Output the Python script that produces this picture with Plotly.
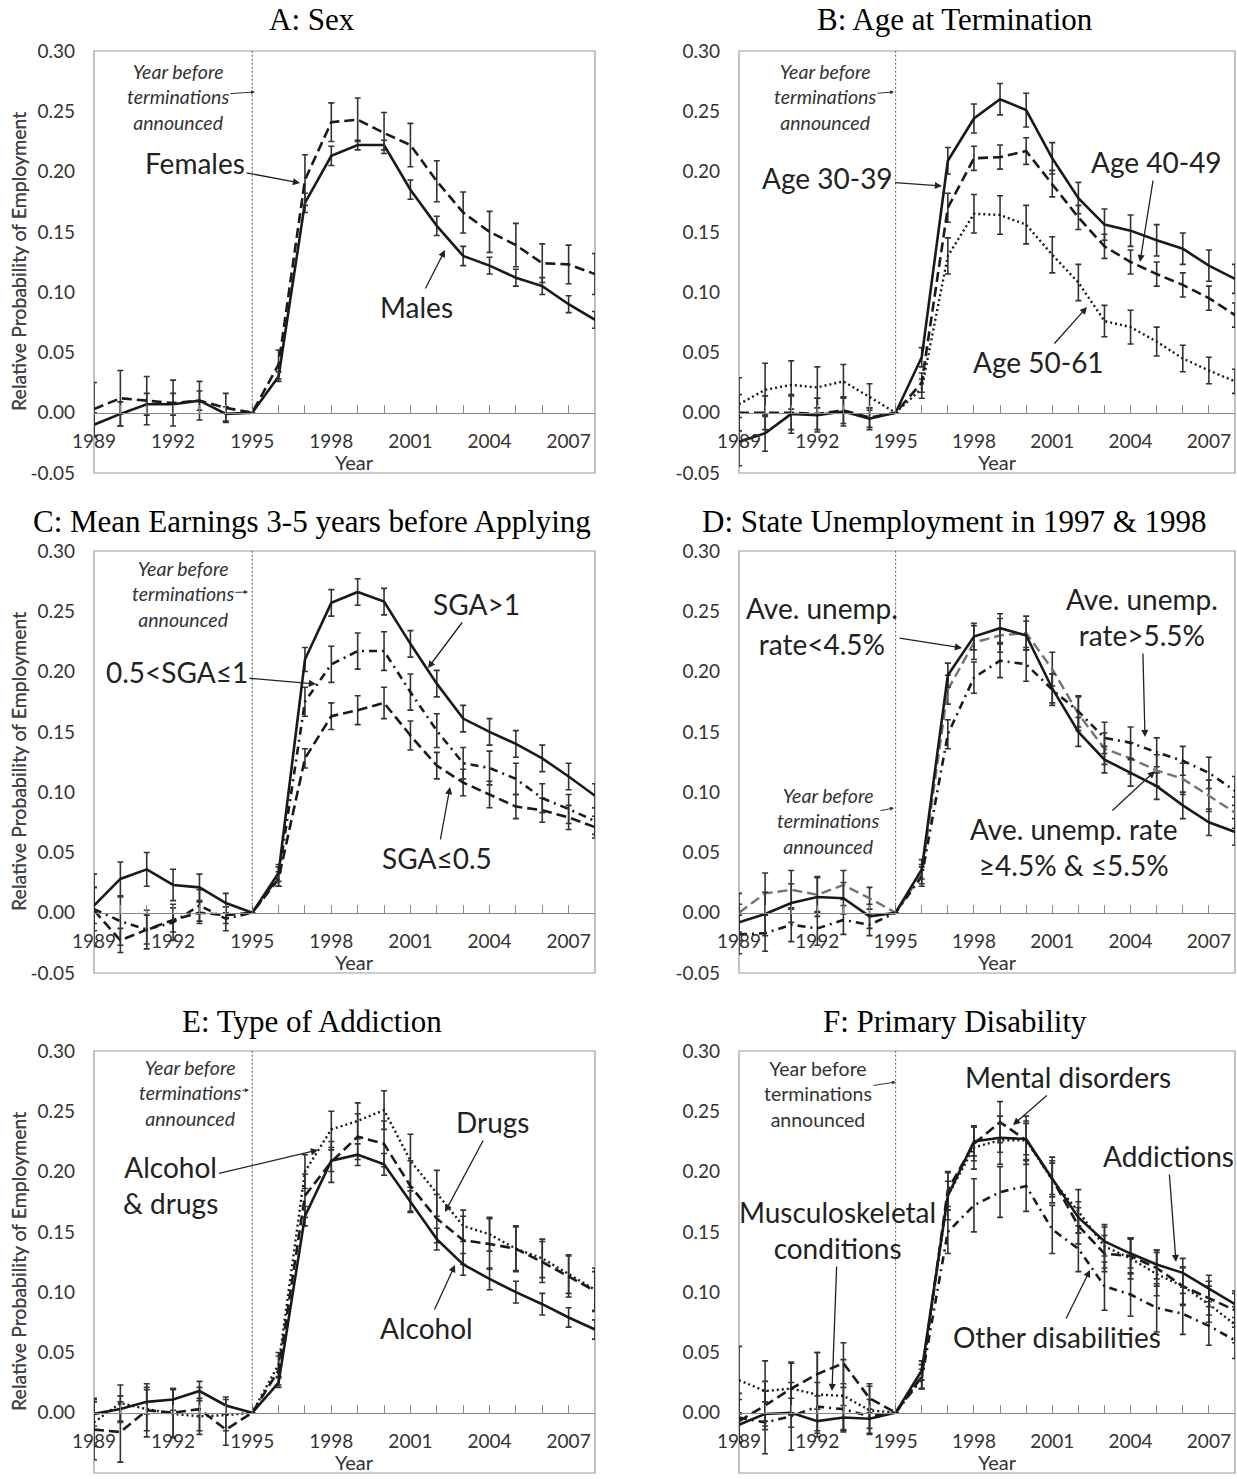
import plotly.graph_objects as go

# ---------------- DATA ----------------
YEARS = list(range(1989, 2009))
X_TICK_LABELS = [str(y) if (y - 1989) % 3 == 0 else "" for y in YEARS]
Y_TICKS = [-0.05, 0.0, 0.05, 0.10, 0.15, 0.20, 0.25, 0.30]
Y_TICK_LABELS = ["-0.05", "0.00", "0.05", "0.10", "0.15", "0.20", "0.25", "0.30"]
EVENT_YEAR = 1995

# A: Sex
A_MALES = [-0.010, -0.001, 0.007, 0.007, 0.010, -0.001, 0.000, 0.030, 0.174, 0.213, 0.222, 0.222, 0.185, 0.155, 0.130, 0.122, 0.112, 0.105, 0.090, 0.077]
A_MALES_ERR = [0.010, 0.010, 0.009, 0.009, 0.008, 0.006, 0.0, 0.004, 0.008, 0.008, 0.004, 0.004, 0.008, 0.008, 0.008, 0.007, 0.007, 0.007, 0.007, 0.007]
A_FEMALES = [0.003, 0.012, 0.010, 0.008, 0.010, 0.004, 0.000, 0.040, 0.193, 0.241, 0.243, 0.232, 0.222, 0.192, 0.166, 0.150, 0.139, 0.124, 0.123, 0.115]
A_FEMALES_ERR = [0.022, 0.023, 0.020, 0.019, 0.016, 0.012, 0.0, 0.012, 0.021, 0.016, 0.018, 0.017, 0.018, 0.017, 0.017, 0.017, 0.018, 0.016, 0.016, 0.017]

# B: Age at termination
B_AGE30 = [-0.024, -0.017, -0.001, -0.002, 0.001, -0.005, 0.000, 0.046, 0.209, 0.244, 0.260, 0.251, 0.211, 0.178, 0.156, 0.151, 0.143, 0.136, 0.122, 0.111]
B_AGE30_ERR = [0.020, 0.015, 0.016, 0.014, 0.012, 0.009, 0.0, 0.008, 0.011, 0.012, 0.013, 0.014, 0.013, 0.013, 0.013, 0.013, 0.013, 0.013, 0.013, 0.012]
B_AGE40 = [0.000, 0.000, 0.000, -0.001, 0.002, -0.004, 0.000, 0.025, 0.170, 0.211, 0.212, 0.217, 0.190, 0.162, 0.138, 0.125, 0.115, 0.106, 0.095, 0.081]
B_AGE40_ERR = [0.015, 0.014, 0.014, 0.013, 0.011, 0.008, 0.0, 0.008, 0.012, 0.010, 0.010, 0.011, 0.011, 0.010, 0.010, 0.010, 0.010, 0.010, 0.010, 0.010]
B_AGE50 = [0.007, 0.019, 0.023, 0.021, 0.026, 0.013, 0.000, 0.020, 0.130, 0.165, 0.164, 0.156, 0.131, 0.108, 0.076, 0.071, 0.059, 0.045, 0.035, 0.026]
B_AGE50_ERR = [0.022, 0.022, 0.020, 0.017, 0.014, 0.011, 0.0, 0.008, 0.015, 0.016, 0.016, 0.016, 0.015, 0.015, 0.013, 0.014, 0.012, 0.011, 0.011, 0.010]

# C: Mean earnings 3-5 years before applying
C_SGA_HIGH = [0.006, 0.028, 0.036, 0.023, 0.021, 0.008, 0.000, 0.033, 0.210, 0.257, 0.266, 0.258, 0.223, 0.190, 0.161, 0.150, 0.140, 0.128, 0.113, 0.097]
C_SGA_HIGH_ERR = [0.015, 0.014, 0.014, 0.013, 0.011, 0.008, 0.0, 0.007, 0.010, 0.011, 0.011, 0.011, 0.011, 0.011, 0.011, 0.011, 0.011, 0.011, 0.011, 0.010]
C_SGA_MID = [0.003, -0.007, -0.014, -0.008, 0.006, -0.005, 0.000, 0.030, 0.175, 0.206, 0.217, 0.217, 0.183, 0.151, 0.124, 0.120, 0.111, 0.095, 0.086, 0.076]
C_SGA_MID_ERR = [0.018, 0.020, 0.016, 0.015, 0.013, 0.010, 0.0, 0.008, 0.012, 0.015, 0.015, 0.016, 0.015, 0.014, 0.013, 0.014, 0.013, 0.012, 0.012, 0.011]
C_SGA_LOW = [0.002, -0.023, -0.014, -0.006, 0.000, -0.002, 0.000, 0.028, 0.128, 0.163, 0.168, 0.174, 0.147, 0.122, 0.108, 0.098, 0.088, 0.085, 0.079, 0.071]
C_SGA_LOW_ERR = [0.030, 0.010, 0.012, 0.010, 0.009, 0.007, 0.0, 0.006, 0.008, 0.011, 0.012, 0.013, 0.012, 0.011, 0.011, 0.011, 0.010, 0.010, 0.010, 0.009]

# D: State unemployment in 1997 & 1998
D_LOW = [-0.008, -0.001, 0.008, 0.013, 0.012, -0.003, 0.000, 0.036, 0.197, 0.229, 0.236, 0.230, 0.186, 0.150, 0.127, 0.116, 0.105, 0.089, 0.075, 0.067]
D_LOW_ERR = [0.015, 0.018, 0.016, 0.016, 0.013, 0.010, 0.0, 0.008, 0.010, 0.011, 0.012, 0.012, 0.012, 0.012, 0.011, 0.011, 0.011, 0.011, 0.011, 0.011]
D_HIGH = [-0.018, -0.017, -0.010, -0.013, -0.006, -0.010, 0.000, 0.030, 0.148, 0.195, 0.209, 0.206, 0.185, 0.167, 0.145, 0.141, 0.133, 0.126, 0.116, 0.101]
D_HIGH_ERR = [0.016, 0.015, 0.014, 0.014, 0.012, 0.009, 0.0, 0.008, 0.012, 0.013, 0.014, 0.014, 0.013, 0.013, 0.013, 0.013, 0.012, 0.012, 0.013, 0.012]
D_MID = [0.000, 0.016, 0.019, 0.015, 0.023, 0.012, 0.000, 0.032, 0.185, 0.224, 0.230, 0.232, 0.202, 0.165, 0.136, 0.128, 0.118, 0.111, 0.097, 0.083]
D_MID_ERR = [0.016, 0.017, 0.016, 0.015, 0.012, 0.009, 0.0, 0.008, 0.012, 0.014, 0.014, 0.014, 0.014, 0.014, 0.013, 0.013, 0.013, 0.013, 0.013, 0.013]

# E: Type of addiction
E_ALCOHOL = [-0.001, 0.003, 0.009, 0.011, 0.018, 0.006, 0.000, 0.025, 0.163, 0.209, 0.214, 0.206, 0.175, 0.144, 0.123, 0.111, 0.100, 0.090, 0.079, 0.069]
E_ALCOHOL_ERR = [0.010, 0.011, 0.010, 0.009, 0.008, 0.007, 0.0, 0.004, 0.008, 0.009, 0.009, 0.009, 0.009, 0.009, 0.009, 0.009, 0.009, 0.009, 0.008, 0.008]
E_DRUGS = [-0.014, -0.016, 0.002, 0.000, 0.003, -0.014, 0.000, 0.035, 0.180, 0.208, 0.229, 0.223, 0.188, 0.161, 0.143, 0.140, 0.136, 0.125, 0.113, 0.101]
E_DRUGS_ERR = [0.025, 0.025, 0.022, 0.020, 0.018, 0.013, 0.0, 0.012, 0.018, 0.017, 0.019, 0.019, 0.021, 0.020, 0.020, 0.021, 0.018, 0.017, 0.017, 0.016]
E_BOTH = [-0.008, 0.008, 0.003, -0.001, -0.003, -0.002, 0.000, 0.040, 0.200, 0.235, 0.242, 0.251, 0.209, 0.182, 0.155, 0.148, 0.136, 0.128, 0.115, 0.102]
E_BOTH_ERR = [0.020, 0.015, 0.018, 0.020, 0.015, 0.013, 0.0, 0.010, 0.014, 0.015, 0.015, 0.016, 0.022, 0.019, 0.013, 0.014, 0.019, 0.016, 0.016, 0.018]

# F: Primary disability
F_ADDICT = [-0.010, -0.001, 0.000, -0.007, -0.004, -0.005, 0.000, 0.035, 0.180, 0.225, 0.228, 0.227, 0.194, 0.162, 0.142, 0.132, 0.123, 0.116, 0.103, 0.090]
F_ADDICT_ERR = [0.010, 0.010, 0.012, 0.010, 0.010, 0.008, 0.0, 0.008, 0.012, 0.012, 0.012, 0.013, 0.013, 0.013, 0.012, 0.012, 0.012, 0.012, 0.011, 0.011]
F_MENTAL = [-0.007, 0.006, 0.020, 0.032, 0.041, 0.012, 0.000, 0.030, 0.185, 0.223, 0.241, 0.226, 0.194, 0.155, 0.132, 0.130, 0.120, 0.105, 0.095, 0.085]
F_MENTAL_ERR = [0.018, 0.020, 0.021, 0.018, 0.017, 0.012, 0.0, 0.010, 0.014, 0.014, 0.017, 0.016, 0.015, 0.015, 0.015, 0.015, 0.015, 0.015, 0.014, 0.014]
F_MUSCULO = [0.027, 0.018, 0.020, 0.015, 0.014, 0.002, 0.000, 0.030, 0.180, 0.220, 0.226, 0.226, 0.193, 0.167, 0.138, 0.128, 0.115, 0.105, 0.090, 0.073]
F_MUSCULO_ERR = [0.028, 0.025, 0.022, 0.035, 0.030, 0.020, 0.0, 0.010, 0.020, 0.018, 0.020, 0.020, 0.019, 0.018, 0.018, 0.017, 0.018, 0.016, 0.015, 0.015]
F_OTHER = [-0.004, -0.008, -0.003, 0.005, 0.003, -0.003, 0.000, 0.028, 0.150, 0.172, 0.183, 0.188, 0.152, 0.136, 0.105, 0.098, 0.087, 0.082, 0.072, 0.060]
F_OTHER_ERR = [0.020, 0.026, 0.028, 0.020, 0.018, 0.014, 0.0, 0.008, 0.018, 0.022, 0.021, 0.021, 0.020, 0.019, 0.020, 0.018, 0.020, 0.017, 0.016, 0.015]

TITLES = ["A: Sex", "B: Age at Termination", "C: Mean Earnings 3-5 years before Applying",
          "D: State Unemployment in 1997 & 1998", "E: Type of Addiction", "F: Primary Disability"]
Y_TITLE = "Relative Probability of Employment"
X_TITLE = "Year"

# ---------------- STYLE / LAYOUT ----------------
W, H = 1237, 1479
COLS_PX = [(94, 595), (739, 1235)]
ROWS_PX = [(51, 473), (551, 973), (1051, 1473)]
YMIN, YMAX = -0.05, 0.30
XMIN, XMAX = 1989, 2008

SANS = "Lato, 'Open Sans', sans-serif"
SERIF = "'Liberation Serif', 'Times New Roman', serif"
BLACK = "#1a1a1a"
GREY = "#737373"

DASH = "10px,5px"
DOT = "2px,3px"
DASHDOT = "8px,5px,2px,5px"

SERIES = [
    [("Males", A_MALES, A_MALES_ERR, "solid", BLACK, 2.6),
     ("Females", A_FEMALES, A_FEMALES_ERR, DASH, BLACK, 2.6)],
    [("Age 50-61", B_AGE50, B_AGE50_ERR, DOT, BLACK, 2.4),
     ("Age 40-49", B_AGE40, B_AGE40_ERR, DASH, BLACK, 2.6),
     ("Age 30-39", B_AGE30, B_AGE30_ERR, "solid", BLACK, 2.6)],
    [("SGA≤0.5", C_SGA_LOW, C_SGA_LOW_ERR, DASH, BLACK, 2.6),
     ("0.5<SGA≤1", C_SGA_MID, C_SGA_MID_ERR, DASHDOT, BLACK, 2.6),
     ("SGA>1", C_SGA_HIGH, C_SGA_HIGH_ERR, "solid", BLACK, 2.6)],
    [("≥4.5% & ≤5.5%", D_MID, D_MID_ERR, DASH, GREY, 2.4),
     ("rate>5.5%", D_HIGH, D_HIGH_ERR, DASHDOT, BLACK, 2.6),
     ("rate<4.5%", D_LOW, D_LOW_ERR, "solid", BLACK, 2.6)],
    [("Alcohol & drugs", E_BOTH, E_BOTH_ERR, DOT, BLACK, 2.4),
     ("Drugs", E_DRUGS, E_DRUGS_ERR, DASH, BLACK, 2.6),
     ("Alcohol", E_ALCOHOL, E_ALCOHOL_ERR, "solid", BLACK, 2.6)],
    [("Other disabilities", F_OTHER, F_OTHER_ERR, DASHDOT, BLACK, 2.6),
     ("Musculoskeletal", F_MUSCULO, F_MUSCULO_ERR, DOT, BLACK, 2.4),
     ("Mental disorders", F_MENTAL, F_MENTAL_ERR, DASH, BLACK, 2.6),
     ("Addictions", F_ADDICT, F_ADDICT_ERR, "solid", BLACK, 2.6)],
]

# label annotations: (text, head_px_x, head_px_y, text_center_px_x, text_center_px_y)
LABELS = [
    [("Females", 300, 183, 195, 163), ("Males", 445, 250, 416, 307)],
    [("Age 30-39", 942, 186, 828, 178), ("Age 40-49", 1140, 262, 1156, 162),
     ("Age 50-61", 1087, 307, 1038, 362)],
    [("SGA>1", 428, 668, 476, 604), ("0.5<SGA≤1", 316, 684, 177, 672),
     ("SGA≤0.5", 450, 787, 437, 858)],
    [("Ave. unemp.<br>rate<4.5%", 962, 648, 822, 626),
     ("Ave. unemp.<br>rate>5.5%", 1145, 737, 1142, 617),
     ("Ave. unemp. rate<br>≥4.5% & ≤5.5%", 1155, 771, 1073, 847)],
    [("Alcohol<br>& drugs", 318, 1150, 170, 1185), ("Drugs", 445, 1212, 493, 1122),
     ("Alcohol", 455, 1265, 426, 1328)],
    [("Mental disorders", 1013, 1125, 1068, 1077), ("Addictions", 1176, 1262, 1168, 1156),
     ("Musculoskeletal<br>conditions", 832, 1391, 838, 1230),
     ("Other disabilities", 1090, 1270, 1057, 1337)],
]
# "Year before terminations announced" note: (head_x, head_y, center_x, center_y, italic)
NOTES = [(255, 92, 178, 97, True), (894, 92, 825, 97, True), (248, 592, 183, 594, True),
         (894, 808, 828, 821, True), (249, 1090, 190, 1093, True), (896, 1082, 818, 1094, False)]
TITLE_POS = [(312, 20), (955, 20), (312, 521), (955, 521), (312, 1021), (955, 1021)]

fig = go.Figure()
layout = dict(width=W, height=H, margin=dict(l=0, r=0, t=0, b=0, pad=0), autosize=False,
              paper_bgcolor="white", plot_bgcolor="white", showlegend=False,
              font=dict(family=SANS, color="#333"), template="none")
shapes, annotations = [], []


def px_to_data(panel, px, py):
    r, c = divmod(panel, 2)
    x0, x1 = COLS_PX[c]
    t, b = ROWS_PX[r]
    xv = XMIN + (px - x0) / (x1 - x0) * (XMAX - XMIN)
    yv = YMAX - (py - t) / (b - t) * (YMAX - YMIN)
    return xv, yv


for i in range(6):
    r, c = divmod(i, 2)
    n = "" if i == 0 else str(i + 1)
    x0, x1 = COLS_PX[c]
    t, b = ROWS_PX[r]
    ydom = [1 - b / H, 1 - t / H]
    zero_pos = ydom[0] + (ydom[1] - ydom[0]) * (0 - YMIN) / (YMAX - YMIN)

    layout["xaxis" + n] = dict(
        domain=[x0 / W, x1 / W], range=[XMIN, XMAX], anchor="free", position=zero_pos,
        automargin=False, ticklabelstandoff=11,
        tickmode="array", tickvals=YEARS, ticktext=X_TICK_LABELS,
        ticks="inside", ticklen=8, tickwidth=1, tickcolor="#888",
        showline=True, linecolor="#888", linewidth=1, showgrid=False, zeroline=False,
        tickfont=dict(size=19, family=SANS, color="#333"),
    )
    layout["yaxis" + n] = dict(
        domain=ydom, range=[YMIN, YMAX], anchor="x" + n, automargin=False,
        tickmode="array", tickvals=Y_TICKS, ticktext=Y_TICK_LABELS,
        ticks="", showline=False, showgrid=False, zeroline=False, ticklabelstandoff=18,
        tickfont=dict(size=19, family=SANS, color="#333"),
    )
    xr = "x" + n
    yr = "y" + n
    shapes.append(dict(type="rect", xref=xr + " domain", yref=yr + " domain",
                       x0=0, x1=1, y0=0, y1=1, line=dict(color="#9a9a9a", width=1.2),
                       layer="below"))
    shapes.append(dict(type="line", xref=xr, yref=yr, x0=EVENT_YEAR, x1=EVENT_YEAR,
                       y0=0, y1=YMAX, line=dict(color="#555", width=1, dash="2px,2px")))

    for name, vals, errs, dash, color, width in SERIES[i]:
        fig.add_trace(go.Scatter(
            x=YEARS, y=vals, name=name, mode="lines", xaxis=xr, yaxis=yr,
            line=dict(color=color, width=width, dash=dash),
            error_y=dict(type="data", array=errs, visible=True, color="#333",
                         thickness=1.6, width=3),
        ))

    # axis titles
    annotations.append(dict(
        xref="paper", yref="paper", x=18 / W, y=1 - (t + b) / 2 / H, textangle=-90,
        xanchor="center", yanchor="middle", showarrow=False, text=Y_TITLE,
        font=dict(size=19.5, family=SANS, color="#444")))
    annotations.append(dict(
        xref="paper", yref="paper", x=((x0 + x1) / 2 + 10) / W, y=1 - (b - 11) / H,
        xanchor="center", yanchor="middle", showarrow=False, text=X_TITLE,
        font=dict(size=20, family=SANS, color="#333")))

    for text, hx, hy, tx, ty in LABELS[i]:
        xv, yv = px_to_data(i, hx, hy)
        annotations.append(dict(
            xref=xr, yref=yr, x=xv, y=yv, ax=tx - hx, ay=ty - hy, text=text,
            showarrow=True, arrowhead=2, arrowsize=1.1, arrowwidth=1.3, arrowcolor="#222",
            standoff=0, font=dict(size=28, family=SANS, color="#222"), align="center"))

    hx, hy, tx, ty, ital = NOTES[i]
    xv, yv = px_to_data(i, hx, hy)
    note = "Year before<br>terminations<br>announced"
    if ital:
        note = "<i>Year before</i><br><i>terminations</i><br><i>announced</i>"
    annotations.append(dict(
        xref=xr, yref=yr, x=xv, y=yv, ax=tx - hx, ay=ty - hy, text=note,
        showarrow=True, arrowhead=2, arrowsize=0.8, arrowwidth=1, arrowcolor="#333",
        standoff=0, font=dict(size=19.5, family=SANS, color="#333"), align="center"))

    tx, ty = TITLE_POS[i]
    annotations.append(dict(
        xref="paper", yref="paper", x=tx / W, y=1 - ty / H, xanchor="center", yanchor="middle",
        text=TITLES[i], showarrow=False, font=dict(size=31, family=SERIF, color="#000")))

layout["shapes"] = shapes
layout["annotations"] = annotations
fig.update_layout(**layout)
fig.write_html("out.html")
